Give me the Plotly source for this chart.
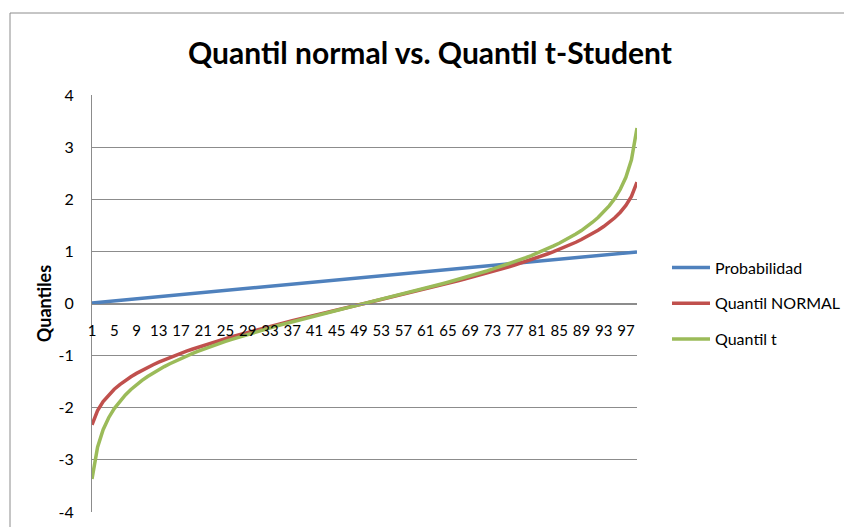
import plotly.graph_objects as go

categories = list(range(1, 100))
tick_labels = list(range(1, 100, 4))

probabilidad = [0.01, 0.02, 0.03, 0.04, 0.05, 0.06, 0.07, 0.08, 0.09, 0.10,
                0.11, 0.12, 0.13, 0.14, 0.15, 0.16, 0.17, 0.18, 0.19, 0.20,
                0.21, 0.22, 0.23, 0.24, 0.25, 0.26, 0.27, 0.28, 0.29, 0.30,
                0.31, 0.32, 0.33, 0.34, 0.35, 0.36, 0.37, 0.38, 0.39, 0.40,
                0.41, 0.42, 0.43, 0.44, 0.45, 0.46, 0.47, 0.48, 0.49, 0.50,
                0.51, 0.52, 0.53, 0.54, 0.55, 0.56, 0.57, 0.58, 0.59, 0.60,
                0.61, 0.62, 0.63, 0.64, 0.65, 0.66, 0.67, 0.68, 0.69, 0.70,
                0.71, 0.72, 0.73, 0.74, 0.75, 0.76, 0.77, 0.78, 0.79, 0.80,
                0.81, 0.82, 0.83, 0.84, 0.85, 0.86, 0.87, 0.88, 0.89, 0.90,
                0.91, 0.92, 0.93, 0.94, 0.95, 0.96, 0.97, 0.98, 0.99]

quantil_normal = [-2.326, -2.054, -1.881, -1.751, -1.645, -1.555, -1.476, -1.405, -1.341, -1.282,
                  -1.227, -1.175, -1.126, -1.080, -1.036, -0.994, -0.954, -0.915, -0.878, -0.842,
                  -0.806, -0.772, -0.739, -0.706, -0.674, -0.643, -0.613, -0.583, -0.553, -0.524,
                  -0.496, -0.468, -0.440, -0.412, -0.385, -0.358, -0.332, -0.305, -0.279, -0.253,
                  -0.228, -0.202, -0.176, -0.151, -0.126, -0.100, -0.075, -0.050, -0.025, 0.000,
                  0.025, 0.050, 0.075, 0.100, 0.126, 0.151, 0.176, 0.202, 0.228, 0.253,
                  0.279, 0.305, 0.332, 0.358, 0.385, 0.412, 0.440, 0.468, 0.496, 0.524,
                  0.553, 0.583, 0.613, 0.643, 0.674, 0.706, 0.739, 0.772, 0.806, 0.842,
                  0.878, 0.915, 0.954, 0.994, 1.036, 1.080, 1.126, 1.175, 1.227, 1.282,
                  1.341, 1.405, 1.476, 1.555, 1.645, 1.751, 1.881, 2.054, 2.326]

quantil_t = [-3.365, -2.757, -2.422, -2.191, -2.015, -1.873, -1.753, -1.650, -1.559, -1.476,
             -1.400, -1.332, -1.269, -1.210, -1.156, -1.105, -1.055, -1.007, -0.962, -0.920,
             -0.879, -0.839, -0.801, -0.763, -0.727, -0.692, -0.658, -0.624, -0.591, -0.559,
             -0.528, -0.497, -0.467, -0.437, -0.408, -0.379, -0.351, -0.322, -0.295, -0.267,
             -0.240, -0.213, -0.185, -0.159, -0.132, -0.105, -0.079, -0.053, -0.026, 0.000,
             0.026, 0.053, 0.079, 0.105, 0.132, 0.159, 0.185, 0.213, 0.240, 0.267,
             0.295, 0.322, 0.351, 0.379, 0.408, 0.437, 0.467, 0.497, 0.528, 0.559,
             0.591, 0.624, 0.658, 0.692, 0.727, 0.763, 0.801, 0.839, 0.879, 0.920,
             0.962, 1.007, 1.055, 1.105, 1.156, 1.210, 1.269, 1.332, 1.400, 1.476,
             1.559, 1.650, 1.753, 1.873, 2.015, 2.191, 2.422, 2.757, 3.365]

y_ticks = [-4, -3, -2, -1, 0, 1, 2, 3, 4]
y_tick_text = ["-4", "-3", "-2", "-1", "0", "1", "2", "3", "4"]

FONT = "Lato, Calibri, Carlito, sans-serif"
GRID = "#8c8c8c"

series = [
    ("Probabilidad", probabilidad, "#4F81BD"),
    ("Quantil NORMAL", quantil_normal, "#C0504D"),
    ("Quantil t", quantil_t, "#9BBB59"),
]

fig = go.Figure()
for name, vals, color in series:
    fig.add_trace(go.Scatter(
        x=categories, y=vals, mode="lines", name=name,
        legendgroup=name,
        line=dict(color=color, width=3.5),
        hoverinfo="skip",
    ))

fig.update_layout(
    width=844, height=527,
    margin=dict(l=92, r=207, t=95, b=15, autoexpand=False),
    paper_bgcolor="white", plot_bgcolor="white",
    font=dict(family=FONT, size=15, color="black"),
    title=dict(text="<b>Quantil normal vs. Quantil t-Student</b>",
               x=430 / 844, xref="container", xanchor="center",
               y=1 - 53 / 527, yref="container", yanchor="middle",
               font=dict(family=FONT, size=30, color="black")),
    showlegend=True,
    legend=dict(x=(667 - 92) / 545, xanchor="left", y=0.5, yanchor="middle",
                font=dict(family=FONT, size=16, color="black"),
                itemwidth=38,
                tracegroupgap=12, bgcolor="rgba(0,0,0,0)"),
    xaxis=dict(
        range=[1, 99], tickmode="array", tickvals=tick_labels,
        ticktext=[str(v) for v in tick_labels],
        showgrid=False, zeroline=False, automargin=False,
        showline=True, linecolor=GRID, linewidth=1,
        anchor="free", position=0.5,
        ticks="", ticklabelstandoff=13,
        tickfont=dict(family=FONT, size=15, color="black"),
    ),
    yaxis=dict(
        range=[-4, 4], tickmode="array", tickvals=y_ticks, ticktext=y_tick_text,
        showgrid=True, gridcolor=GRID, gridwidth=1, automargin=False,
        zeroline=False, showline=True, linecolor=GRID, linewidth=1,
        ticks="", ticklabelstandoff=14,
        tickfont=dict(family=FONT, size=16, color="black"),
        title=dict(text="<b>Quantiles</b>", standoff=2,
                   font=dict(family=FONT, size=18, color="black")),
    ),
)

# outer chart-area border (continues beyond the visible window on right/bottom)
fig.add_shape(type="rect", xref="paper", yref="paper",
              x0=(10 - 92) / 545, x1=(950 - 92) / 545,
              y0=(512 - 600) / 417, y1=(512 - 13) / 417,
              line=dict(color=GRID, width=1), fillcolor="rgba(0,0,0,0)",
              layer="below")

fig.write_html("out.html", config={"displayModeBar": False},
               post_script="document.body.style.margin='0';document.body.style.overflow='hidden';")
